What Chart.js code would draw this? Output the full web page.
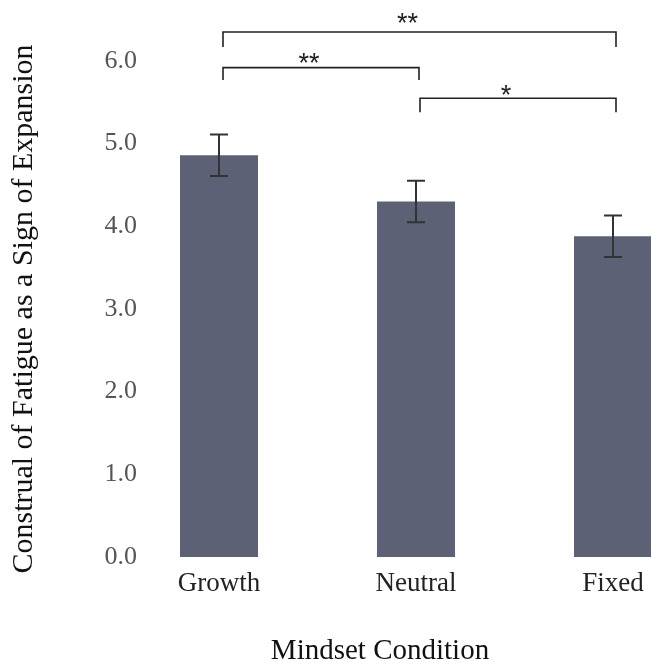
<!DOCTYPE html>
<html>
<head>
<meta charset="utf-8">
<script src="https://cdn.jsdelivr.net/npm/chart.js@4.4.0/dist/chart.umd.min.js"></script>
<style>
  html, body { margin: 0; padding: 0; background: #ffffff; overflow: hidden; }
  #wrap { position: relative; width: 651px; height: 664px; }
</style>
</head>
<body>
<div id="wrap"><canvas id="grafico"></canvas></div>
<script>
const categorias = ["Growth", "Neutral", "Fixed"];
const medias = [4.86, 4.30, 3.88];
const erros = [0.25, 0.25, 0.25];

// comparacoes: de, ate, rotulo
const comparacoes = [
    [0, 2, "**"],
    [0, 1, "**"],
    [1, 2, "*"]
];
// altura de cada colchete (em unidades do eixo y): linha, ponta, asterisco
const nivelColchete = [
    [6.35, 6.17, 6.52],
    [5.92, 5.77, 6.04],
    [5.55, 5.38, 5.66]
];

const tituloX = "Mindset Condition";
const tituloY = "Construal of Fatigue as a Sign of Expansion";

const fonteSerif = "'Liberation Serif', 'Times New Roman', serif";

const barrasDeErro = {
    id: "barrasDeErro",
    afterDatasetsDraw(chart) {
        const ctx = chart.ctx;
        const y = chart.scales.y;
        const meta = chart.getDatasetMeta(0);
        ctx.save();
        ctx.strokeStyle = "#333333";
        ctx.lineWidth = 2;
        meta.data.forEach((barra, i) => {
            const topo = y.getPixelForValue(medias[i] + erros[i]);
            const base = y.getPixelForValue(medias[i] - erros[i]);
            ctx.beginPath();
            ctx.moveTo(barra.x, topo);
            ctx.lineTo(barra.x, base);
            ctx.moveTo(barra.x - 9, topo);
            ctx.lineTo(barra.x + 9, topo);
            ctx.moveTo(barra.x - 9, base);
            ctx.lineTo(barra.x + 9, base);
            ctx.stroke();
        });
        ctx.restore();
    }
};

const colchetes = {
    id: "colchetes",
    afterDraw(chart) {
        const ctx = chart.ctx;
        const x = chart.scales.x;
        const y = chart.scales.y;
        ctx.save();
        ctx.strokeStyle = "#222222";
        ctx.lineWidth = 1.6;
        ctx.fillStyle = "#222222";
        ctx.font = "27px 'Liberation Sans', Arial, sans-serif";
        ctx.textAlign = "center";
        ctx.textBaseline = "middle";
        comparacoes.forEach((c, i) => {
            const x1 = x.getPixelForValue(c[0]) + 4;
            const x2 = x.getPixelForValue(c[1]) + 3;
            const yl = y.getPixelForValue(nivelColchete[i][0]);
            const yp = y.getPixelForValue(nivelColchete[i][1]);
            ctx.beginPath();
            ctx.moveTo(x1, yp);
            ctx.lineTo(x1, yl);
            ctx.lineTo(x2, yl);
            ctx.lineTo(x2, yp);
            ctx.stroke();
            // os asteriscos ficam um pouco à esquerda do centro no original
            ctx.fillText(c[2], (x1 + x2) / 2 - 12, y.getPixelForValue(nivelColchete[i][2]) + 7);
        });

        // titulo do eixo x, deslocado para a esquerda como no original
        ctx.fillStyle = "#111111";
        ctx.font = "29px " + fonteSerif;
        ctx.textBaseline = "alphabetic";
        ctx.fillText(tituloX, 380, 659);
        ctx.restore();
    }
};

document.addEventListener("DOMContentLoaded", () => {
    const grafico = document.getElementById("grafico");
    new Chart(grafico, {
        type: "bar",
        data: {
            labels: categorias,
            datasets: [{
                data: medias,
                backgroundColor: "#5c6175",
                categoryPercentage: 1,
                barPercentage: 0.396,
                clip: false
            }]
        },
        options: {
            responsive: true,
            maintainAspectRatio: false,
            animation: false,
            layout: {
                padding: { top: 61, right: 38, bottom: 0, left: 0 }
            },
            plugins: {
                legend: { display: false },
                tooltip: { enabled: false }
            },
            scales: {
                x: {
                    offset: false,
                    grid: { display: false, drawTicks: false },
                    border: { display: false },
                    afterFit(scale) {
                        scale.height = 107;
                        scale.paddingLeft = 0;
                        scale.paddingRight = 0;
                    },
                    ticks: {
                        color: "#222222",
                        padding: 11,
                        maxRotation: 0,
                        font: { family: fonteSerif, size: 27 }
                    }
                },
                y: {
                    min: 0,
                    max: 6,
                    grid: { display: false, drawTicks: false },
                    border: { display: false },
                    afterFit(scale) {
                        scale.width = 219;
                        scale.paddingTop = 0;
                        scale.paddingBottom = 0;
                    },
                    ticks: {
                        stepSize: 1,
                        color: "#555555",
                        padding: 82,
                        font: { family: fonteSerif, size: 26 },
                        callback: v => Number(v).toFixed(1)
                    },
                    title: {
                        display: true,
                        text: tituloY,
                        color: "#111111",
                        padding: { top: 6, bottom: 0 },
                        font: { family: fonteSerif, size: 30 }
                    }
                }
            }
        },
        plugins: [barrasDeErro, colchetes]
    });
});
</script>
</body>
</html>
